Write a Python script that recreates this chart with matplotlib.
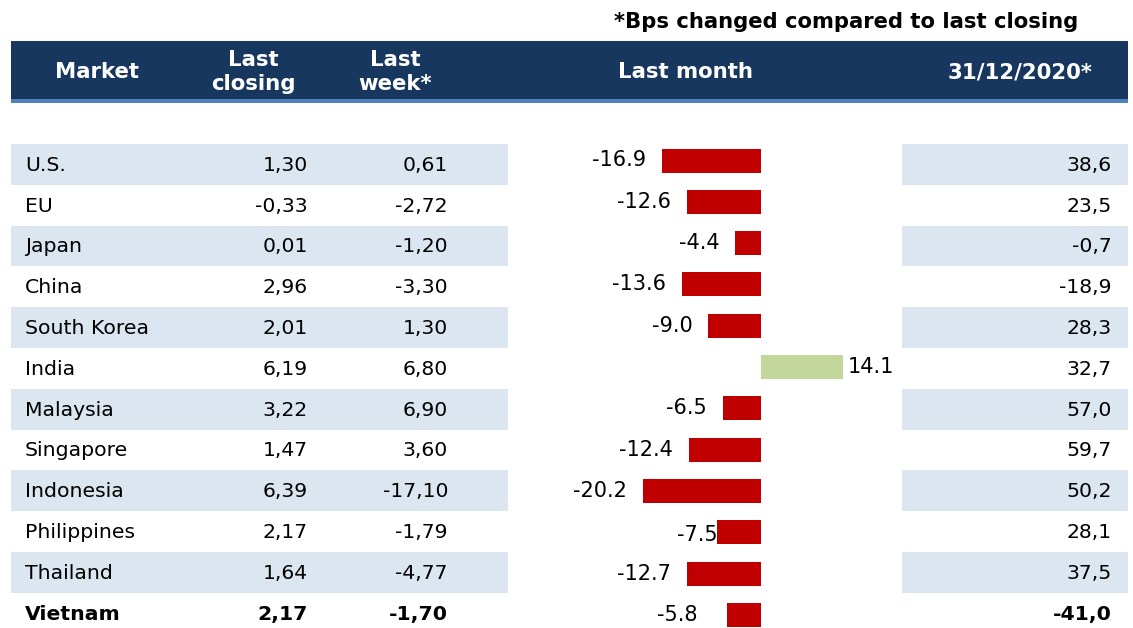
import matplotlib.pyplot as plt
from matplotlib.patches import Rectangle

markets = ['U.S.', 'EU', 'Japan', 'China', 'South Korea', 'India', 'Malaysia',
           'Singapore', 'Indonesia', 'Philippines', 'Thailand', 'Vietnam']
last_closing = ['1,30', '-0,33', '0,01', '2,96', '2,01', '6,19', '3,22',
                '1,47', '6,39', '2,17', '1,64', '2,17']
last_week = ['0,61', '-2,72', '-1,20', '-3,30', '1,30', '6,80', '6,90',
             '3,60', '-17,10', '-1,79', '-4,77', '-1,70']
last_month = [-16.9, -12.6, -4.4, -13.6, -9.0, 14.1, -6.5,
              -12.4, -20.2, -7.5, -12.7, -5.8]
ytd = ['38,6', '23,5', '-0,7', '-18,9', '28,3', '32,7', '57,0',
       '59,7', '50,2', '28,1', '37,5', '-41,0']

W, H = 1133, 628
navy = '#17375E'
stripe = '#4F81BD'
shade = '#DCE6F1'
red = '#C00000'
green = '#C4D79B'

plt.rcParams['font.family'] = ['DejaVu Sans']

fig = plt.figure(figsize=(W / 100, H / 100), dpi=100)

# background axes in pixel units for the table
bg = fig.add_axes([0, 0, 1, 1])
bg.set_xlim(0, W)
bg.set_ylim(H, 0)
bg.axis('off')

top0 = 144
pitch = 40.8

# header band
bg.add_patch(Rectangle((11, 41), 1117, 58, color=navy, lw=0))
bg.add_patch(Rectangle((11, 99), 1117, 4, color=stripe, lw=0))
hdr = dict(color='white', fontweight='bold', fontsize=15.3, va='center',
           ha='center', linespacing=1.25)
bg.text(97, 72, 'Market', **hdr)
bg.text(253, 72, 'Last\nclosing', **hdr)
bg.text(395, 72, 'Last\nweek*', **hdr)
bg.text(685, 72, 'Last month', **hdr)
bg.text(1020, 72, '31/12/2020*', **hdr)
bg.text(846, 22, '*Bps changed compared to last closing', fontsize=15.2,
        fontweight='bold', ha='center', va='center', color='black')

for i, m in enumerate(markets):
    y0 = top0 + i * pitch
    yc = y0 + pitch / 2 + 1
    if i % 2 == 0:
        bg.add_patch(Rectangle((11, y0), 497, pitch, color=shade, lw=0))
        bg.add_patch(Rectangle((902, y0), 226, pitch, color=shade, lw=0))
    fw = 'bold' if m == 'Vietnam' else 'normal'
    kw = dict(fontsize=14.7, va='center', color='black', fontweight=fw)
    bg.text(25, yc, m, ha='left', **kw)
    bg.text(308, yc, last_closing[i], ha='right', **kw)
    bg.text(448, yc, last_week[i], ha='right', **kw)
    bg.text(1112, yc, ytd[i], ha='right', **kw)

# bar axes, overlaid on the whole figure
zero_px = 761
px_per_unit = 5.84
bar_c0 = 160.5
bar_pitch = 41.3
ax = fig.add_axes([0, 0, 1, 1])
ax.patch.set_alpha(0)
ax.set_xlim(-zero_px / px_per_unit, (W - zero_px) / px_per_unit)
ax.set_ylim((H - bar_c0) / bar_pitch, -bar_c0 / bar_pitch)
ax.axis('off')

ypos = list(range(len(markets)))
colors = [green if v > 0 else red for v in last_month]
ax.barh(ypos, last_month, height=24 / bar_pitch, color=colors)

for i, v in enumerate(last_month):
    if v > 0:
        ax.annotate(f'{v:.1f}', (v, ypos[i]), xytext=(3, 0),
                    textcoords='offset points', ha='left', va='center',
                    fontsize=15)
    else:
        gap, dy = 11.5, 0
        if markets[i] == 'Philippines':
            gap, dy = 0, -2
        elif markets[i] == 'Vietnam':
            gap = 21
        ax.annotate(f'{v:.1f}', (v, ypos[i]), xytext=(-gap, dy),
                    textcoords='offset points', ha='right', va='center',
                    fontsize=15)

fig.savefig('out.png', dpi=100)
